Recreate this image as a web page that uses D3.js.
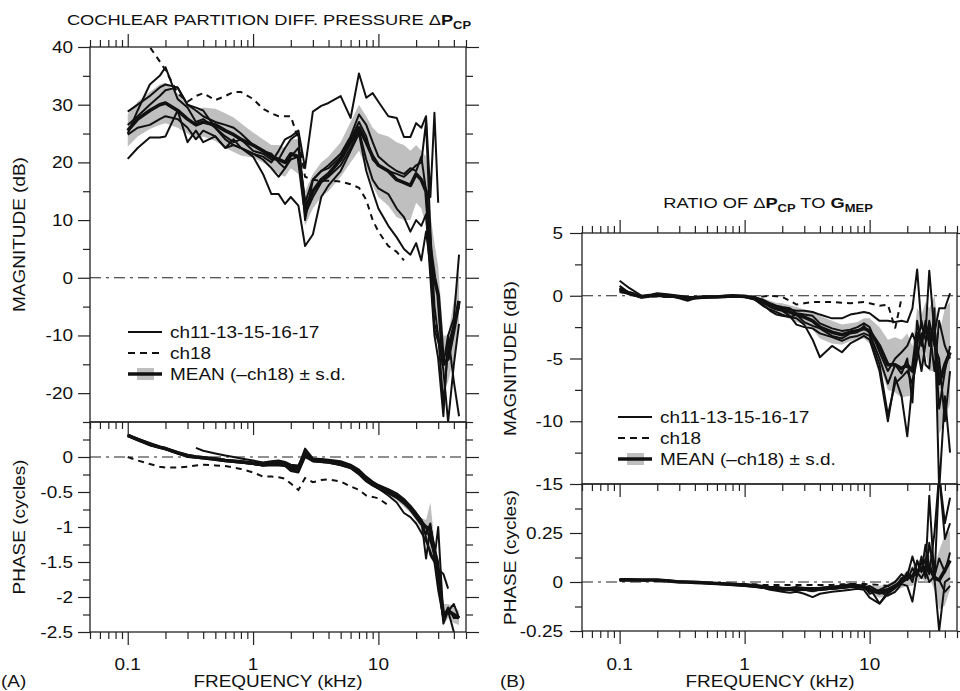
<!DOCTYPE html>
<html>
<head>
<meta charset="utf-8">
<script src="https://cdn.jsdelivr.net/npm/d3@7/dist/d3.min.js"></script>
<style>
  body { margin: 0; background: #fff; }
  svg { display: block; font-family: "Liberation Sans", Arial, sans-serif; }
</style>
</head>
<body>
<svg id="chart" width="960" height="691"></svg>
<script>
// ---- data ----
const freqKHz = [0.1, 0.12, 0.15, 0.18, 0.2, 0.25, 0.3, 0.35, 0.4, 0.5,
  0.6, 0.7, 0.8, 1.0, 1.2, 1.4, 1.6, 1.8, 2.0, 2.3,
  2.6, 3.0, 3.5, 4.0, 5, 6, 7, 8, 9, 10,
  12, 14, 16, 18, 20, 22, 24, 26, 28, 30,
  33, 36, 40, 44];

// (A) magnitude, dB
const magA_ch11 = [28.8, 30, 31.5, 33, 33.5, 33, 30, 29.5, 29, 26,
  24, 23, 22.5, 21.5, 21, 20, 22, 24, 24.5, 25.5,
  19, 28.8, 29.8, 30.3, 31.5, 27.7, 35.4, 31.2, 32, 30.5,
  28, 27.7, 24.4, 24.4, 26.8, 26, 28, 14, 28.6, 13,
  null, null, null, null];
const magA_ch13 = [25, 29, 33.5, 35, 36.5, 31, 29.5, 27, 27.5, 26,
  24.5, 23.5, 24, 22, 21.5, 20.5, 20.5, 22.5, 24, 25,
  10, 17, 18.5, 19, 21, 24, 27, 24.5, 20.5, 19.5,
  18.5, 18, 17.5, 18.5, 19.5, 20, 27, 8, -5, -10,
  -22, -12, -8, -5];
const magA_ch15 = [20.6, 22.5, 24.3, 24.3, 24.5, 29, 23.5, 25.5, 23.5, 24.5,
  22.5, 23, 22.5, 21, 18, 14.5, 14.5, 12.8, 14, 12.5,
  5.5, 7.5, 14, 16, 18.5, 22, 25, 18.5, 15, 12,
  9, 7, 5, 4, 6, 3, 8, 2, -8, -10,
  -16, -25, -15, -8];
const magA_ch16 = [26.5, 28, 30, 31.5, 32.5, 33, 30, 29, 28, 27,
  26.5, 26, 25, 23, 22, 21.5, 20, 19, 21, 22.5,
  13, 17, 18.5, 19.5, 21.5, 24.5, 28.3, 26.5, 23.5, 21,
  19.5, 18.5, 18, 19, 18.5, 21, 15, 2, -9, -11,
  -15, -10, -7, 4];
const magA_ch17 = [24.8, 26, 26.5, 27.5, 28, 27.5, 26, 24, 25.5, 24.5,
  22.5, 24, 22.5, 21.5, 20.5, 19, 17.5, 19, 20.5, 21,
  11, 14, 16.5, 17.5, 19.5, 22.5, 25.5, 20.5, 17, 15.5,
  14.5, 12, 10.5, 8, 10, 9, 11, 0, -10, -14,
  -24, -10, -18, -24];
const magA_ch18 = [44, 42, 40, 37.5, 36, 32, 30.5, 31.5, 32, 30.8,
  31.5, 32.2, 32.2, 31, 29.3, 28.5, 28, 28, 28, 24,
  17.5, 17, 16.8, 16.8, 16.7, 16.2, 15.6, 13.5, 10, 8,
  5.5, 4.5, 3, null, null, null, null, null, null, null,
  null, null, null, null];
const magA_mean = [25.5, 27.5, 29, 30, 30.3, 29, 27.5, 26.5, 27, 26.5,
  25.5, 24.8, 24, 23, 22, 21, 20.5, 20, 21.5, 21,
  12, 15, 17, 18, 20.5, 23.5, 26, 23.5, 21, 19.5,
  18.5, 17, 16.5, 16, 18, 17, 15, 5, 0, -3,
  -15, -14, -9, -4];
const magA_sd = [2.8, 3, 3.2, 3.5, 3.5, 3, 2.5, 2.5, 2.5, 2.8,
  3, 3, 2.8, 2.2, 2, 2, 2.5, 2.5, 2.5, 3,
  3, 3, 3, 3, 3, 3.5, 4, 4.5, 5, 5.5,
  6, 6.5, 6.5, 6, 5, 5, 6, 6, 6, 5,
  5, 4, 5, 5];

// (A) phase, cycles
const phA_ch11 = [0.32, 0.26, 0.2, 0.15, 0.13, 0.07, 0.03, 0.01, 0, -0.02,
  -0.04, -0.05, -0.06, -0.08, -0.1, -0.08, -0.07, -0.08, -0.13, -0.14,
  0.12, -0.02, -0.03, -0.04, -0.06, -0.11, -0.18, -0.28, -0.35, -0.4,
  -0.46, -0.52, -0.6, -0.7, -0.8, -0.9, -1.0, -1.2, -1.4, -1.65,
  -2.38, -2.2, -2.1, -2.3];
const phA_ch13 = [0.31, 0.25, 0.17, 0.14, 0.11, 0.05, 0.0, -0.01, -0.02, -0.04,
  -0.06, -0.07, -0.08, -0.1, -0.12, -0.12, -0.12, -0.13, -0.2, -0.22,
  0.0, -0.06, -0.07, -0.08, -0.12, -0.16, -0.25, -0.35, -0.41, -0.45,
  -0.52, -0.58, -0.65, -0.75, -0.86, -0.95, -1.1, -0.95, -1.45, -1.0,
  -2.3, -2.15, -2.3, -2.3];
const phA_ch15 = [null, null, null, null, null, null, null, 0.13, 0.09, 0.05,
  0.02, 0.0, -0.02, -0.05, -0.08, -0.06, -0.05, -0.07, -0.11, -0.12,
  0.08, -0.03, -0.04, -0.05, -0.08, -0.12, -0.2, -0.3, -0.38, -0.42,
  -0.48, -0.55, -0.62, -0.7, -0.8, -0.9, -1.15, -1.4, -1.5, -1.6,
  -1.67, -1.88, null, null];
const phA_ch16 = [0.3, 0.24, 0.17, 0.13, 0.11, 0.06, 0.02, 0.0, -0.01, -0.03,
  -0.05, -0.07, -0.08, -0.1, -0.12, -0.11, -0.1, -0.12, -0.18, -0.21,
  0.02, -0.05, -0.06, -0.07, -0.1, -0.15, -0.24, -0.33, -0.4, -0.45,
  -0.55, -0.65, -0.8, -0.86, -0.95, -1.08, -1.2, -1.35, -1.5, -1.9,
  -2.3, -2.2, -2.5, -2.6];
const phA_ch17 = [0.32, 0.26, 0.19, 0.14, 0.12, 0.06, 0.02, 0.0, -0.01, -0.03,
  -0.05, -0.06, -0.07, -0.09, -0.1, -0.09, -0.09, -0.1, -0.15, -0.16,
  0.08, -0.04, -0.05, -0.06, -0.09, -0.13, -0.2, -0.3, -0.37, -0.42,
  -0.49, -0.55, -0.62, -0.72, -0.82, -0.9, -1.45, -1.0, -1.3, -1.5,
  -2.3, -2.2, -2.25, -2.3];
const phA_ch18 = [0, -0.05, -0.1, -0.14, -0.15, -0.15, -0.14, -0.12, -0.11, -0.12,
  -0.13, -0.15, -0.17, -0.22, -0.28, -0.28, -0.29, -0.31, -0.38, -0.47,
  -0.3, -0.36, -0.33, -0.32, -0.35, -0.42, -0.47, -0.55, -0.57, -0.59,
  -0.69, null, null, null, null, null, null, null, null, null,
  null, null, null, null];
const phA_mean = [0.31, 0.25, 0.18, 0.14, 0.12, 0.06, 0.02, 0.0, -0.01, -0.03,
  -0.05, -0.06, -0.07, -0.09, -0.11, -0.1, -0.1, -0.11, -0.16, -0.17,
  0.05, -0.05, -0.06, -0.07, -0.1, -0.14, -0.22, -0.32, -0.38, -0.43,
  -0.5, -0.57, -0.65, -0.74, -0.85, -0.95, -1.0, -1.05, -1.35, -1.7,
  -2.25, -2.2, -2.25, -2.3];
const phA_sd = [0.02, 0.02, 0.02, 0.02, 0.02, 0.02, 0.02, 0.02, 0.02, 0.02,
  0.02, 0.02, 0.02, 0.02, 0.02, 0.03, 0.03, 0.03, 0.04, 0.04,
  0.05, 0.03, 0.03, 0.03, 0.03, 0.03, 0.03, 0.04, 0.04, 0.04,
  0.04, 0.05, 0.06, 0.06, 0.06, 0.08, 0.1, 0.4, 0.15, 0.15,
  0.15, 0.1, 0.12, 0.1];

// (B) ratio magnitude, dB
const magB_ch11 = [1.2, 0.6, 0.0, 0.1, 0.2, 0.1, 0, -0.1, -0.1, -0.05,
  -0.05, 0, 0, -0.05, -0.1, -0.4, -0.7, -0.9, -1.0, -1.1,
  -1.2, -1.2, -1.3, -1.5, -1.8, -1.8, -1.5, -1.4, -1.3, -1.4,
  -2, -2.0, -2.1, -2.0, -2.1, -1.0, 2.1, -2.5, -3, 2,
  -3, -1, -1, 0.2];
const magB_ch13 = [0.8, 0.2, -0.15, 0, 0.1, 0, -0.2, -0.4, -0.2, -0.15,
  -0.1, -0.1, -0.05, -0.1, -0.3, -0.8, -1.1, -1.3, -1.5, -1.7,
  -1.8, -2.3, -3.5, -4.9, -4, -4.5, -3.8, -3.5, -3.2, -3.5,
  -6, -10, -6.5, -8, -11.2, -7, -5, -3, -5.5, -5.8,
  -1, -15.5, -8, -12.5];
const magB_ch15 = [0.5, 0.1, -0.1, 0, 0.0, -0.1, -0.1, -0.2, -0.15, -0.1,
  -0.1, -0.05, -0.05, -0.05, -0.25, -0.7, -1.2, -1.5, -1.6, -1.7,
  -1.5, -2.1, -2.4, -2.6, -3.2, -3.4, -3, -2.9, -2.4, -3,
  -5, -7, -5.5, -6.2, -5, -8.5, -2, -4, -2, -4,
  -3, -9, -6, -4];
const magB_ch16 = [0.3, 0.15, -0.05, 0.05, 0.05, 0, -0.05, -0.15, -0.1, -0.1,
  -0.05, -0.05, 0, -0.05, -0.15, -0.3, -0.6, -0.8, -0.9, -1.0,
  -1.4, -1.5, -1.6, -2.2, -2.6, -2.8, -2.7, -2.5, -2.2, -2.5,
  -4.5, -6, -5, -4.5, -4, -3, -4, -2, -3.5, -2.5,
  -6, -2, -4, -5];
const magB_ch17 = [0.6, 0.25, -0.1, 0, 0.05, 0, -0.1, -0.2, -0.2, -0.1,
  -0.1, -0.1, -0.05, -0.1, -0.2, -0.5, -0.9, -1.1, -1.2, -1.6,
  -2.3, -2.5, -2.6, -3, -3.3, -3.6, -3.3, -3.2, -3, -3.2,
  -5.5, -9.5, -7, -6.5, -6, -7, -4, -6, -3.8, -2,
  -4, -5, -10, -6];
const magB_ch18 = [0.6, 0.3, 0, -0.05, -0.05, -0.1, -0.1, -0.15, -0.1, -0.1,
  -0.1, -0.05, -0.05, -0.05, -0.1, -0.05, 0, -0.05, -0.1, -0.4,
  -0.7, -0.6, -0.5, -0.5, -0.5, -0.55, -0.6, -0.55, -0.5, -0.6,
  -0.8, -0.7, -2.6, -0.2, null, null, null, null, null, null,
  null, null, null, null];
const magB_mean = [0.5, 0.2, -0.1, 0.0, 0.05, 0, -0.1, -0.2, -0.15, -0.1,
  -0.1, -0.05, 0, -0.05, -0.2, -0.5, -0.8, -1.0, -1.1, -1.3,
  -1.5, -1.7, -2.0, -2.5, -2.9, -3.1, -2.9, -2.8, -2.6, -2.8,
  -4, -5.5, -5.5, -5.8, -5.5, -6, -3, -3.5, -2.5, -3.5,
  -3, -7, -5.5, -4.5];
const magB_sd = [0.3, 0.15, 0.1, 0.1, 0.1, 0.1, 0.1, 0.1, 0.1, 0.1,
  0.1, 0.1, 0.1, 0.1, 0.2, 0.3, 0.4, 0.45, 0.5, 0.55,
  0.6, 0.6, 0.7, 0.9, 0.9, 0.8, 0.7, 0.7, 0.8, 1.0,
  1.5, 2, 2.2, 2.3, 2.5, 2, 2, 2, 2, 2.5,
  3, 4, 4.5, 4];

// (B) ratio phase, cycles
const phB_ch11 = [0.015, 0.015, 0.012, 0.01, 0.012, 0.008, 0.002, 0, -0.002, -0.005,
  -0.008, -0.01, -0.012, -0.015, -0.02, -0.03, -0.04, -0.045, -0.05, -0.055,
  -0.05, -0.06, -0.077, -0.06, -0.05, -0.045, -0.04, -0.035, -0.04, -0.08,
  -0.11, -0.06, -0.03, 0.02, 0.03, 0.13, 0.05, 0.1, 0.06, 0.44,
  0.01, 0.55, 0.3, 0.43];
const phB_ch13 = [0.012, 0.01, 0.01, 0.01, 0.008, 0.005, 0, 0, -0.003, -0.006,
  -0.01, -0.012, -0.015, -0.02, -0.025, -0.03, -0.03, -0.035, -0.035, -0.03,
  -0.025, -0.03, -0.03, -0.03, -0.025, -0.02, -0.01, -0.015, -0.02, -0.03,
  -0.11, -0.05, -0.03, 0.0, 0.05, 0.0, 0.11, 0.05, 0.19, 0.08,
  0.02, -0.25, 0.0, 0.02];
const phB_ch15 = [0.01, 0.012, 0.01, 0.012, 0.01, 0.005, 0.002, 0, -0.002, -0.004,
  -0.006, -0.008, -0.01, -0.012, -0.015, -0.02, -0.025, -0.025, -0.03, -0.03,
  -0.03, -0.03, -0.035, -0.03, -0.025, -0.02, -0.02, -0.02, -0.02, -0.06,
  -0.04, -0.02, 0.0, 0.04, 0.01, 0.07, 0.03, 0.13, 0.02, 0.2,
  0.03, 0.12, 0.05, 0.15];
const phB_ch16 = [0.008, 0.01, 0.008, 0.01, 0.01, 0.004, 0, -0.002, -0.004, -0.006,
  -0.01, -0.012, -0.014, -0.018, -0.022, -0.028, -0.035, -0.04, -0.04, -0.04,
  -0.045, -0.04, -0.045, -0.04, -0.035, -0.03, -0.025, -0.025, -0.03, -0.02,
  -0.05, -0.07, -0.05, -0.01, -0.02, -0.1, 0.05, 0.02, 0.06, 0.0,
  0.03, 0.01, -0.05, -0.02];
const phB_ch17 = [0.01, 0.01, 0.01, 0.01, 0.01, 0.005, 0.0, 0.0, -0.002, -0.005,
  -0.008, -0.01, -0.012, -0.015, -0.018, -0.022, -0.028, -0.03, -0.032, -0.035,
  -0.035, -0.04, -0.045, -0.04, -0.035, -0.03, -0.025, -0.02, -0.03, -0.045,
  -0.06, -0.05, -0.02, 0.01, 0.04, 0.03, 0.1, 0.06, 0.12, 0.04,
  0.25, 0.55, 0.22, 0.3];
const phB_ch18 = [0.01, 0.01, 0.008, 0.006, 0.005, 0.003, 0, 0, -0.002, -0.004,
  -0.006, -0.008, -0.01, -0.01, -0.012, -0.015, -0.015, -0.015, -0.015, -0.015,
  -0.015, -0.015, -0.015, -0.015, -0.015, -0.012, -0.01, -0.01, -0.01, -0.012,
  -0.015, -0.02, -0.02, null, null, null, null, null, null, null,
  null, null, null, null];
const phB_mean = [0.01, 0.01, 0.01, 0.01, 0.01, 0.005, 0.0, 0, -0.002, -0.005,
  -0.008, -0.01, -0.012, -0.015, -0.02, -0.025, -0.03, -0.03, -0.035, -0.035,
  -0.035, -0.035, -0.04, -0.035, -0.03, -0.025, -0.02, -0.02, -0.025, -0.04,
  -0.05, -0.04, -0.02, 0.0, 0.02, 0.03, 0.05, 0.07, 0.05, 0.08,
  0.02, 0.01, 0.06, 0.11];
const phB_sd = [0.005, 0.005, 0.005, 0.005, 0.005, 0.005, 0.005, 0.005, 0.005, 0.005,
  0.005, 0.005, 0.005, 0.006, 0.008, 0.01, 0.01, 0.01, 0.012, 0.012,
  0.012, 0.012, 0.015, 0.012, 0.01, 0.01, 0.01, 0.01, 0.012, 0.02,
  0.03, 0.03, 0.03, 0.03, 0.04, 0.05, 0.05, 0.05, 0.05, 0.06,
  0.06, 0.15, 0.18, 0.15];

// ticks
const xMajor = [0.1, 1, 10];
const xMinor = [0.05, 0.06, 0.07, 0.08, 0.09, 0.2, 0.3, 0.4, 0.5, 0.6, 0.7, 0.8, 0.9,
  2, 3, 4, 5, 6, 7, 8, 9, 20, 30, 40, 50];
const xTickLabels = ['0.1', '1', '10'];
const magA_major = [-20, -10, 0, 10, 20, 30, 40];
const magA_minor = [-25, -15, -5, 5, 15, 25, 35];
const phA_major = [-2.5, -2, -1.5, -1, -0.5, 0];
const phA_minor = [-2.25, -1.75, -1.25, -0.75, -0.25, 0.25];
const magB_major = [-15, -10, -5, 0, 5];
const magB_minor = [-12.5, -7.5, -2.5, 2.5];
const phB_major = [-0.25, 0, 0.25];
const phB_minor = [-0.125, 0.125, 0.375];

// ---- drawing ----
const svg = d3.select('#chart');
const defs = svg.append('defs');
const INK = '#111';
const BAND = '#bfbfbf';

function stretchText(parent, x, y, opts = {}) {
  const tf = `translate(${x},${y})` + (opts.rotate ? ' rotate(-90)' : '') + ` scale(${opts.sx || 1.15},1)`;
  return parent.append('text')
    .attr('transform', tf)
    .attr('text-anchor', opts.anchor || 'middle')
    .attr('font-size', opts.size || 16.5)
    .attr('fill', INK);
}

function tickGroup(parent, axis, tf, values, size) {
  parent.append('g')
    .attr('transform', tf)
    .attr('color', '#222')
    .call(axis.tickValues(values).tickSize(size).tickSizeOuter(0).tickFormat(''))
    .call(g => g.select('.domain').remove())
    .call(g => g.selectAll('line').attr('stroke-width', 1.2));
}

function drawPanel(p) {
  const x = d3.scaleLog().domain([0.05, 50]).range([p.left, p.right]);
  const y = d3.scaleLinear().domain(p.domain).range([p.bottom, p.top]);
  const g = svg.append('g').attr('class', 'panel ' + p.id);

  defs.append('clipPath').attr('id', 'clip-' + p.id)
    .append('rect')
    .attr('x', p.left).attr('y', p.top)
    .attr('width', p.right - p.left).attr('height', p.bottom - p.top);

  const plot = g.append('g').attr('clip-path', `url(#clip-${p.id})`);

  // zero reference, dash-dot
  plot.append('line')
    .attr('x1', p.left).attr('x2', p.right)
    .attr('y1', y(0)).attr('y2', y(0))
    .attr('stroke', '#222').attr('stroke-width', 1.1)
    .attr('stroke-dasharray', '11,5,3,5');

  // mean +- s.d. band
  const bandPts = freqKHz.map((f, i) => ({ f, m: p.mean[i], s: p.sd[i] }));
  plot.append('path')
    .datum(bandPts)
    .attr('fill', BAND)
    .attr('d', d3.area()
      .defined(d => d.m != null)
      .x(d => x(d.f))
      .y0(d => y(d.m - d.s))
      .y1(d => y(d.m + d.s)));

  const line = d3.line()
    .defined(d => d.v != null)
    .x(d => x(d.f))
    .y(d => y(d.v));
  const series = arr => freqKHz.map((f, i) => ({ f, v: arr[i] }));

  // individual ears
  p.ears.forEach(arr => {
    plot.append('path')
      .datum(series(arr))
      .attr('fill', 'none')
      .attr('stroke', INK)
      .attr('stroke-width', 2)
      .attr('stroke-linejoin', 'round')
      .attr('d', line);
  });

  // ch18, dashed
  plot.append('path')
    .datum(series(p.ch18))
    .attr('fill', 'none')
    .attr('stroke', INK)
    .attr('stroke-width', 2)
    .attr('stroke-dasharray', '6,5')
    .attr('d', line);

  // mean, thick
  plot.append('path')
    .datum(series(p.mean))
    .attr('fill', 'none')
    .attr('stroke', INK)
    .attr('stroke-width', 3.6)
    .attr('stroke-linejoin', 'round')
    .attr('d', line);

  // frame
  g.append('rect')
    .attr('x', p.left).attr('y', p.top)
    .attr('width', p.right - p.left).attr('height', p.bottom - p.top)
    .attr('fill', 'none').attr('stroke', '#222').attr('stroke-width', 1.3);

  // y ticks, outward on both sides
  tickGroup(g, d3.axisLeft(y), `translate(${p.left},0)`, p.yMajor, 12);
  tickGroup(g, d3.axisLeft(y), `translate(${p.left},0)`, p.yMinor, 7);
  tickGroup(g, d3.axisRight(y), `translate(${p.right},0)`, p.yMajor, 13);
  tickGroup(g, d3.axisRight(y), `translate(${p.right},0)`, p.yMinor, 7);

  // x ticks
  if (p.kind === 'mag') {
    tickGroup(g, d3.axisTop(x), `translate(0,${p.top})`, xMajor, 13);
    tickGroup(g, d3.axisTop(x), `translate(0,${p.top})`, xMinor, 7);
  } else {
    tickGroup(g, d3.axisBottom(x), `translate(0,${p.top})`, xMajor, 13);
    tickGroup(g, d3.axisBottom(x), `translate(0,${p.top})`, xMinor, 7);
    tickGroup(g, d3.axisBottom(x), `translate(0,${p.bottom})`, xMajor, 13);
    tickGroup(g, d3.axisBottom(x), `translate(0,${p.bottom})`, xMinor, 7);
    xMajor.forEach((v, i) => {
      stretchText(g, x(v), 670).text(xTickLabels[i]);
    });
  }

  // y tick labels
  p.yMajor.forEach(v => {
    stretchText(g, p.labelX, y(v) + 6, { anchor: 'end' }).text(String(v));
  });

  // y axis title
  stretchText(g, p.titleX, (p.top + p.bottom) / 2, { rotate: true }).text(p.yTitle);
}

const panels = [
  { id: 'aMag', kind: 'mag', left: 90, right: 466, top: 47, bottom: 422, domain: [-25, 40],
    ears: [magA_ch11, magA_ch13, magA_ch15, magA_ch16, magA_ch17], ch18: magA_ch18,
    mean: magA_mean, sd: magA_sd, yMajor: magA_major, yMinor: magA_minor,
    labelX: 73, titleX: 25, yTitle: 'MAGNITUDE (dB)' },
  { id: 'aPh', kind: 'phase', left: 90, right: 466, top: 422, bottom: 632, domain: [-2.5, 0.5],
    ears: [phA_ch11, phA_ch13, phA_ch15, phA_ch16, phA_ch17], ch18: phA_ch18,
    mean: phA_mean, sd: phA_sd, yMajor: phA_major, yMinor: phA_minor,
    labelX: 73, titleX: 25, yTitle: 'PHASE (cycles)' },
  { id: 'bMag', kind: 'mag', left: 582, right: 957, top: 233, bottom: 484, domain: [-15, 5],
    ears: [magB_ch11, magB_ch13, magB_ch15, magB_ch16, magB_ch17], ch18: magB_ch18,
    mean: magB_mean, sd: magB_sd, yMajor: magB_major, yMinor: magB_minor,
    labelX: 563, titleX: 516, yTitle: 'MAGNITUDE (dB)' },
  { id: 'bPh', kind: 'phase', left: 582, right: 957, top: 484, bottom: 631, domain: [-0.25, 0.5],
    ears: [phB_ch11, phB_ch13, phB_ch15, phB_ch16, phB_ch17], ch18: phB_ch18,
    mean: phB_mean, sd: phB_sd, yMajor: phB_major, yMinor: phB_minor,
    labelX: 563, titleX: 516, yTitle: 'PHASE (cycles)' }
];

panels.forEach(drawPanel);

// x axis titles and panel letters
stretchText(svg, 278, 687).text('FREQUENCY (kHz)');
stretchText(svg, 770, 687).text('FREQUENCY (kHz)');
stretchText(svg, 1, 687, { anchor: 'start' }).text('(A)');
stretchText(svg, 500, 687, { anchor: 'start' }).text('(B)');

// panel titles
const tA = stretchText(svg, 269, 25, { size: 15.5, sx: 1.18 });
tA.append('tspan').text('COCHLEAR PARTITION DIFF. PRESSURE \u0394');
tA.append('tspan').attr('font-weight', 'bold').text('P');
tA.append('tspan').attr('font-weight', 'bold').attr('font-size', 11).attr('dy', 4).text('CP');

const tB = stretchText(svg, 768, 208, { size: 15.5, sx: 1.18 });
tB.append('tspan').text('RATIO OF \u0394');
tB.append('tspan').attr('font-weight', 'bold').text('P');
tB.append('tspan').attr('font-weight', 'bold').attr('font-size', 11).attr('dy', 4).text('CP');
tB.append('tspan').attr('dy', -4).text(' TO ');
tB.append('tspan').attr('font-weight', 'bold').text('G');
tB.append('tspan').attr('font-weight', 'bold').attr('font-size', 11).attr('dy', 4).text('MEP');

// legends
const legendLabels = ['ch11-13-15-16-17', 'ch18', 'MEAN (\u2013ch18) \u00b1 s.d.'];
function drawLegend(x0, y0, gap) {
  const g = svg.append('g');
  const x1 = x0 + 34;
  g.append('line').attr('x1', x0).attr('x2', x1).attr('y1', y0).attr('y2', y0)
    .attr('stroke', INK).attr('stroke-width', 2);
  g.append('line').attr('x1', x0).attr('x2', x1).attr('y1', y0 + gap).attr('y2', y0 + gap)
    .attr('stroke', INK).attr('stroke-width', 2).attr('stroke-dasharray', '7,5');
  g.append('rect').attr('x', x0 + 9).attr('y', y0 + 2 * gap - 6).attr('width', 17).attr('height', 12)
    .attr('fill', BAND);
  g.append('line').attr('x1', x0).attr('x2', x1).attr('y1', y0 + 2 * gap).attr('y2', y0 + 2 * gap)
    .attr('stroke', INK).attr('stroke-width', 3.6);
  legendLabels.forEach((s, i) => {
    stretchText(g, x1 + 8, y0 + i * gap + 6, { anchor: 'start' }).text(s);
  });
}
drawLegend(128, 332, 21);
drawLegend(618, 417, 21);
</script>
</body>
</html>
